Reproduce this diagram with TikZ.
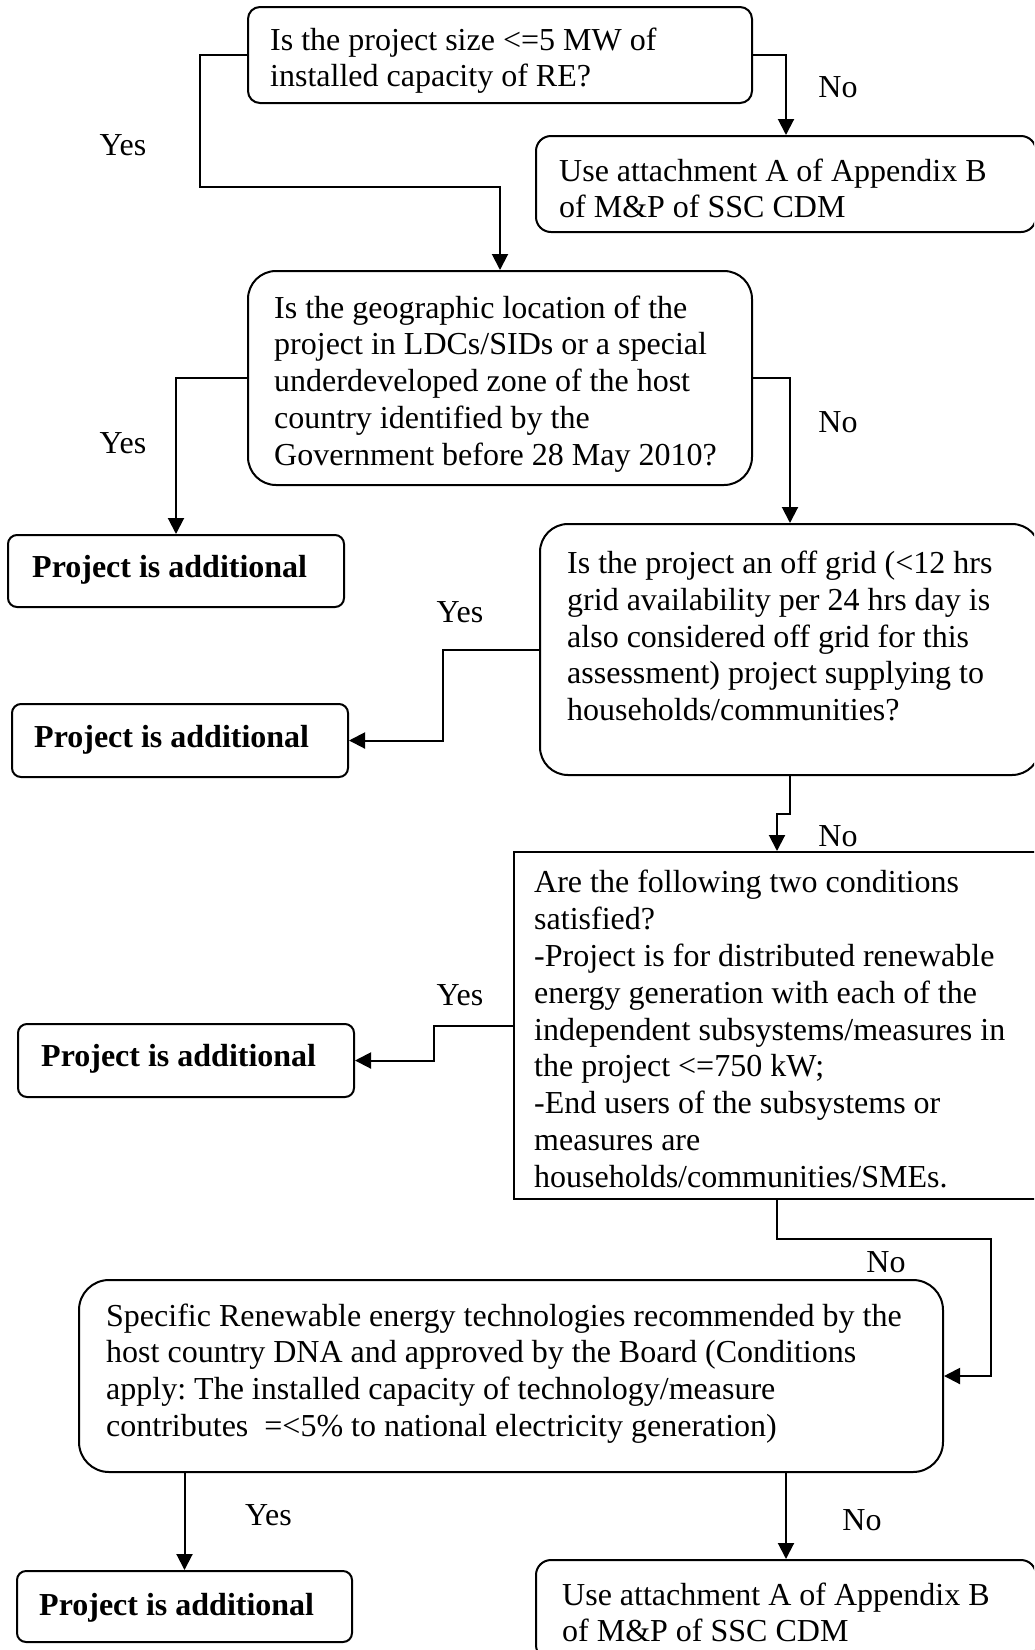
\documentclass[tikz,border=0pt]{standalone}
\usepackage{fontspec}
\setmainfont{Liberation Serif}
\usetikzlibrary{arrows.meta}
\frenchspacing
\tikzset{
  box/.style={draw, line width=2pt, inner sep=0pt, rectangle},
  txt/.style={anchor=north west, inner sep=0pt, align=left, font=\fontsize{32}{36.8}\selectfont},
  btxt/.style={txt, font=\fontsize{32}{36.8}\selectfont\bfseries},
  lbl/.style={anchor=base, inner sep=0pt, font=\fontsize{32}{36.8}\selectfont},
  arr/.style={line width=2pt, -{Triangle[width=16pt,length=16pt]}},
}
\begin{document}
\begin{tikzpicture}[x=1pt,y=-1pt]
\useasboundingbox (0,0) rectangle (1034,1650);
\clip (0,0) rectangle (1034,1650);
% boxes
\node[box, rounded corners=12pt, minimum width=504pt, minimum height=96pt] (q1) at (500,55) {};
\node[box, rounded corners=15pt, minimum width=500pt, minimum height=96pt] (a1) at (786,184) {};
\node[box, rounded corners=28pt, minimum width=504pt, minimum height=214pt] (q2) at (500,378) {};
\node[box, rounded corners=9pt, minimum width=336pt, minimum height=72pt] (p1) at (176,571) {};
\node[box, rounded corners=28pt, minimum width=500pt, minimum height=251pt] (q3) at (790,649.5) {};
\node[box, rounded corners=9pt, minimum width=336pt, minimum height=73pt] (p2) at (180,740.5) {};
\node[box, minimum width=526pt, minimum height=347pt] (q4) at (777,1025.5) {};
\node[box, rounded corners=9pt, minimum width=336pt, minimum height=73pt] (p3) at (186,1060.5) {};
\node[box, rounded corners=30pt, minimum width=864pt, minimum height=192pt] (q5) at (511,1376) {};
\node[box, rounded corners=9pt, minimum width=335pt, minimum height=71pt] (p4) at (184.5,1606.5) {};
\node[box, rounded corners=15pt, minimum width=500pt, minimum height=100pt] (a2) at (786,1610) {};
% texts
\node[txt] (q1t) at (270,24.2) {\strut Is the project size <=5 MW of\\installed capacity of RE?};
\node[txt] (a1t) at (559,155.2) {\strut Use attachment A of Appendix B\\of M\&P of SSC CDM};
\node[txt] (q2t) at (274,292.2) {\strut Is the geographic location of the\\project in LDCs/SIDs or a special\\underdeveloped zone of the host\\country identified by the\\Government before 28 May 2010?};
\node[btxt] (p1t) at (32,551.2) {\strut Project is additional};
\node[txt] (q3t) at (567,547.5) {\strut Is the project an off grid (<12 hrs\\grid availability per 24 hrs day is\\also considered off grid for this\\assessment) project supplying to\\households/communities?};
\node[btxt] (p2t) at (34,721.2) {\strut Project is additional};
\node[txt] (q4t) at (534,867) {\strut Are the following two conditions\\satisfied?\\-Project is for distributed renewable\\energy generation with each of the\\independent subsystems/measures in\\the project <=750 kW;\\-End users of the subsystems or\\measures are\\households/communities/SMEs.};
\node[btxt] (p3t) at (41,1041) {\strut Project is additional};
\node[txt] (q5t) at (106,1300.2) {\strut Specific Renewable energy technologies recommended by the\\host country DNA and approved by the Board (Conditions\\apply: The installed capacity of technology/measure\\contributes\ \ =<5\% to national electricity generation)};
\node[btxt] (p4t) at (39,1589.2) {\strut Project is additional};
\node[txt] (a2t) at (562,1579.2) {\strut Use attachment A of Appendix B\\of M\&P of SSC CDM};
% connectors
\draw[arr] (q1.west) -| (200,187) -| (q2.north);
\draw[arr] (q1.east) -| (a1.north);
\draw[arr] (q2.west) -| (p1.north);
\draw[arr] (q2.east) -| (q3.north);
\draw[arr] (q3.west) -| (443,740.5) -- (p2.east);
\draw[arr] (q3.south) |- (777,814) -- (q4.north);
\draw[arr] (q4.west) -| (434,1060.5) -- (p3.east);
\draw[arr] (q4.south) |- (991,1239) |- (q5.east);
\draw[arr] (q5.south -| p4.north) -- (p4.north);
\draw[arr] (q5.south -| a2.north) -- (a2.north);
% labels
\node[lbl] (y1) at (123,155) {Yes};
\node[lbl] (n1) at (838,97.5) {No};
\node[lbl] (y2) at (123,453) {Yes};
\node[lbl] (n2) at (838,432) {No};
\node[lbl] (y3) at (460,622) {Yes};
\node[lbl] (n3) at (838,846) {No};
\node[lbl] (y4) at (460,1005) {Yes};
\node[lbl] (n4) at (886,1272) {No};
\node[lbl] (y5) at (268.5,1525) {Yes};
\node[lbl] (n5) at (862,1530) {No};
\end{tikzpicture}
\end{document}
